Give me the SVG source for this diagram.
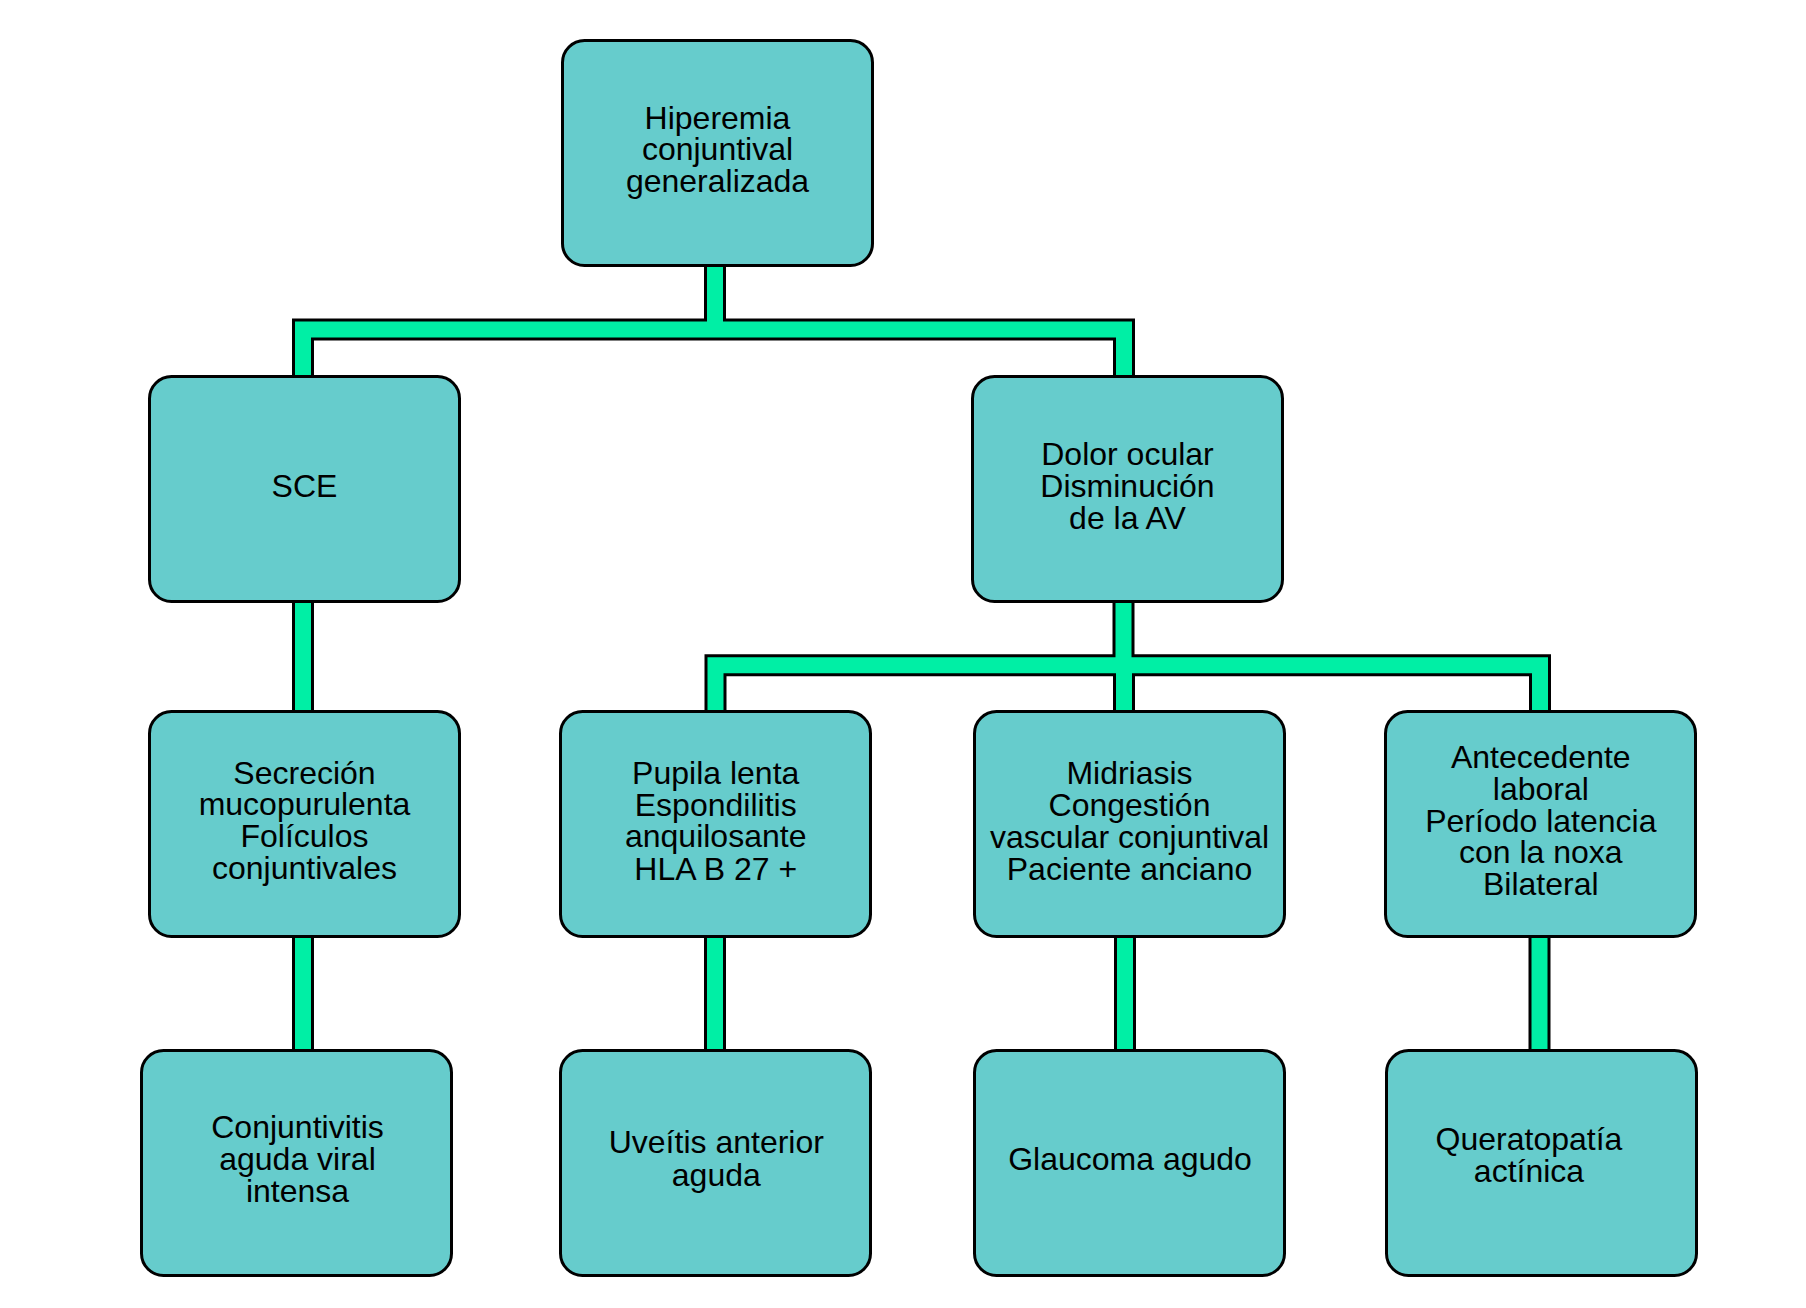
<svg xmlns="http://www.w3.org/2000/svg" width="1806" height="1308" viewBox="0 0 1806 1308">
<style>
.box{fill:#66CCCC;stroke:#000;stroke-width:3}
.lnb{fill:none;stroke:#000;stroke-width:22;stroke-linejoin:miter;stroke-linecap:butt}
.lng{fill:none;stroke:#00EFA5;stroke-width:16;stroke-linejoin:miter;stroke-linecap:butt}
text{font-family:"Liberation Sans",Arial,sans-serif;font-size:32px;fill:#000;text-anchor:middle}
</style>
<rect width="1806" height="1308" fill="#fff"/>
<defs>
<path id="conns" d="M303,375 V329.5 H1124 V375 M715,267 V329.5 M303,603 V710 M303,938 V1049 M1123.5,603 V665.3 M715.5,710 V665.3 H1540 V710 M1124,665.3 V710 M715,938 V1049 M1125,938 V1049 M1539.5,938 V1049"/>
</defs>
<g id="connectors">
<use href="#conns" class="lnb"/>
<use href="#conns" class="lng"/>
</g>
<g id="n-root"><rect class="box" x="562.5" y="40.5" width="310" height="225" rx="22"/>
<text x="717.5"><tspan x="717.5" y="128.5">Hiperemia</tspan><tspan x="717.5" y="160">conjuntival</tspan><tspan x="717.5" y="192">generalizada</tspan></text></g>
<g id="n-sce"><rect class="box" x="149.5" y="376.5" width="310" height="225" rx="22"/>
<text x="304.5" y="497">SCE</text></g>
<g id="n-dolor"><rect class="box" x="972.5" y="376.5" width="310" height="225" rx="22"/>
<text><tspan x="1127.5" y="464.5">Dolor ocular</tspan><tspan x="1127.5" y="496.7">Disminución</tspan><tspan x="1127.5" y="528.7">de la AV</tspan></text></g>
<g id="n-secrecion"><rect class="box" x="149.5" y="711.5" width="310" height="225" rx="22"/>
<text><tspan x="304.5" y="783.5">Secreción</tspan><tspan x="304.5" y="815">mucopurulenta</tspan><tspan x="304.5" y="846.8">Folículos</tspan><tspan x="304.5" y="879">conjuntivales</tspan></text></g>
<g id="n-pupila"><rect class="box" x="560.5" y="711.5" width="310" height="225" rx="22"/>
<text><tspan x="715.7" y="784">Pupila lenta</tspan><tspan x="715.7" y="815.7">Espondilitis</tspan><tspan x="715.7" y="847">anquilosante</tspan><tspan x="715.7" y="879.5">HLA B 27 +</tspan></text></g>
<g id="n-midriasis"><rect class="box" x="974.5" y="711.5" width="310" height="225" rx="22"/>
<text><tspan x="1129.5" y="784">Midriasis</tspan><tspan x="1129.5" y="815.7">Congestión</tspan><tspan x="1129.5" y="847.5">vascular conjuntival</tspan><tspan x="1129.5" y="879.5">Paciente anciano</tspan></text></g>
<g id="n-antecedente"><rect class="box" x="1385.5" y="711.5" width="310" height="225" rx="22"/>
<text><tspan x="1540.8" y="767.7">Antecedente</tspan><tspan x="1540.8" y="799.5">laboral</tspan><tspan x="1540.8" y="831.5">Período latencia</tspan><tspan x="1540.8" y="863">con la noxa</tspan><tspan x="1540.8" y="895">Bilateral</tspan></text></g>
<g id="n-conjuntivitis"><rect class="box" x="141.5" y="1050.5" width="310" height="225" rx="22"/>
<text><tspan x="297.5" y="1137.7">Conjuntivitis</tspan><tspan x="297.5" y="1170">aguda viral</tspan><tspan x="297.5" y="1202">intensa</tspan></text></g>
<g id="n-uveitis"><rect class="box" x="560.5" y="1050.5" width="310" height="225" rx="22"/>
<text><tspan x="716.3" y="1153.3">Uveítis anterior</tspan><tspan x="716.3" y="1185.7">aguda</tspan></text></g>
<g id="n-glaucoma"><rect class="box" x="974.5" y="1050.5" width="310" height="225" rx="22"/>
<text x="1130" y="1170">Glaucoma agudo</text></g>
<g id="n-queratopatia"><rect class="box" x="1386.5" y="1050.5" width="310" height="225" rx="22"/>
<text><tspan x="1529" y="1150">Queratopatía</tspan><tspan x="1529" y="1181.7">actínica</tspan></text></g>
</svg>
